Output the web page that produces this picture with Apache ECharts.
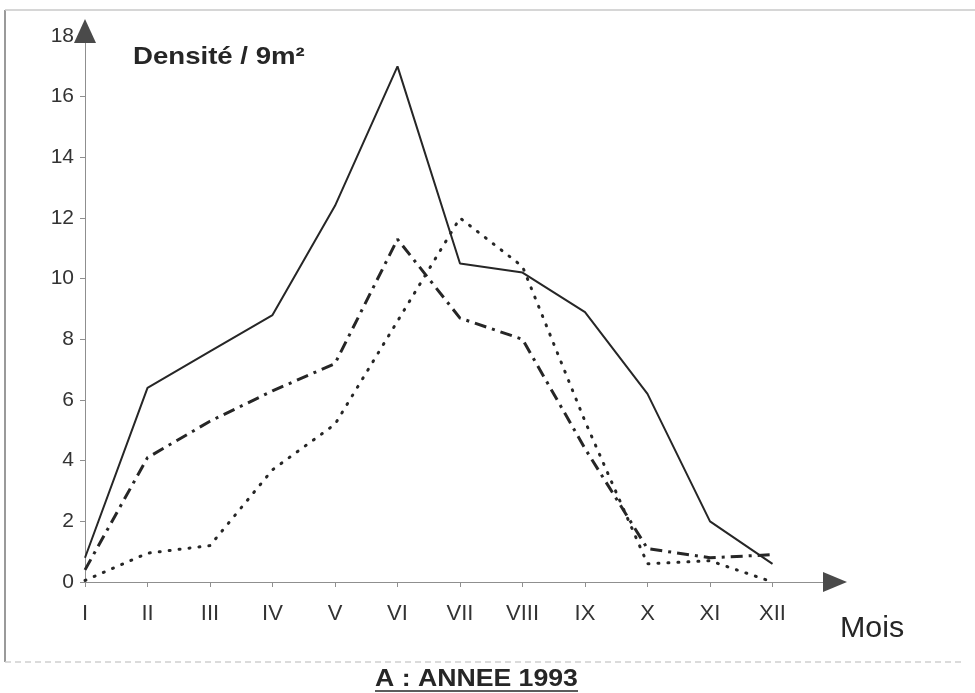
<!DOCTYPE html>
<html>
<head>
<meta charset="utf-8">
<title>A : ANNEE 1993</title>
<script src="https://cdn.jsdelivr.net/npm/echarts@6/dist/echarts.min.js"></script>
<style>
  html, body { margin: 0; padding: 0; background: #fff; }
  #chart { width: 975px; height: 693px; }
</style>
</head>
<body>
<div id="chart"></div>
<script>
// Months of 1993 on the horizontal axis
const mois = ['I', 'II', 'III', 'IV', 'V', 'VI', 'VII', 'VIII', 'IX', 'X', 'XI', 'XII'];

// Density per 9 m², one value per month
const densiteTrait      = [0.8, 6.4, 7.6, 8.8, 12.4, 17.0, 10.5, 10.2, 8.9, 6.2, 2.0, 0.6];
const densiteTiretPoint = [0.4, 4.1, 5.3, 6.3, 7.2, 11.3, 8.7, 8.0, 4.4, 1.1, 0.8, 0.9];
const densitePointille  = [0.05, 0.95, 1.2, 3.7, 5.2, 8.6, 12.0, 10.4, 5.3, 0.6, 0.7, 0.0];

// Y axis ticks
const yTicks = [0, 2, 4, 6, 8, 10, 12, 14, 16, 18];

const monthIdx = mois.map((_, i) => i);
const pairs = arr => arr.map((v, i) => [i, v]);

const FONT = '"Liberation Sans", Arial, sans-serif';
const INK = '#262626';
const AXIS_GREY = '#8f8f8f';
const ARROW = '#4a4a4a';

const xRange = { min: 0, max: 12, interval: 1 };
const yRange = { min: yTicks[0], max: yTicks[yTicks.length - 1], interval: 2 };

// Overlay axes: only carry the dark arrow heads (line itself has no width)
const arrowX = Object.assign({
  type: 'value', position: 'bottom',
  axisLine: { show: true, symbol: ['none', 'triangle'], symbolSize: [20, 24], lineStyle: { color: ARROW, width: 0 } },
  axisTick: { show: false }, axisLabel: { show: false }, splitLine: { show: false }
}, xRange);
const arrowY = Object.assign({
  type: 'value', position: 'left',
  axisLine: { show: true, symbol: ['none', 'triangle'], symbolSize: [22, 24], symbolOffset: [0, 5], lineStyle: { color: ARROW, width: 0 } },
  axisTick: { show: false }, axisLabel: { show: false }, splitLine: { show: false }
}, yRange);

const chart = echarts.init(document.getElementById('chart'), null, { renderer: 'canvas' });

chart.setOption({
  animation: false,
  backgroundColor: '#ffffff',
  grid: { left: 85, right: 140, top: 36, bottom: 111 },
  xAxis: [
    Object.assign({
      type: 'value',
      position: 'bottom',
      axisLine: { show: true, lineStyle: { color: AXIS_GREY, width: 1 } },
      axisTick: { show: true, customValues: monthIdx, length: 5, lineStyle: { color: AXIS_GREY } },
      axisLabel: {
        customValues: monthIdx,
        formatter: v => mois[v] || '',
        fontFamily: FONT,
        fontSize: 22,
        color: '#333',
        margin: 21
      },
      splitLine: { show: false }
    }, xRange),
    arrowX
  ],
  yAxis: [
    Object.assign({
      type: 'value',
      position: 'left',
      axisLine: { show: true, lineStyle: { color: AXIS_GREY, width: 1 } },
      axisTick: { show: true, length: 5, lineStyle: { color: AXIS_GREY } },
      axisLabel: { fontFamily: FONT, fontSize: 21, color: '#333', margin: 11 },
      splitLine: { show: false }
    }, yRange),
    arrowY
  ],
  series: [
    {
      name: 'trait',
      type: 'line',
      data: pairs(densiteTrait),
      showSymbol: false,
      lineStyle: { color: INK, width: 2 }
    },
    {
      name: 'tiret-point',
      type: 'line',
      data: pairs(densiteTiretPoint),
      showSymbol: false,
      lineStyle: { color: INK, width: 3, type: [12, 6, 3, 6], cap: 'butt' }
    },
    {
      name: 'pointillé',
      type: 'line',
      data: pairs(densitePointille),
      showSymbol: false,
      lineStyle: { color: INK, width: 3, type: [1, 9], cap: 'round' }
    }
  ],
  graphic: [
    // scanned page frame
    { type: 'line', shape: { x1: 5, y1: 10, x2: 5, y2: 662 }, style: { stroke: '#9a9a9a', lineWidth: 2 } },
    { type: 'line', shape: { x1: 5, y1: 10, x2: 975, y2: 10 }, style: { stroke: '#c8c8c8', lineWidth: 1.5 } },
    { type: 'line', shape: { x1: 5, y1: 662, x2: 965, y2: 662 }, style: { stroke: '#cfcfcf', lineWidth: 1.5, lineDash: [6, 4] } },
    {
      type: 'text', x: 133, y: 57, scaleX: 1.15,
      style: { text: 'Densité / 9m²', font: 'bold 24px ' + FONT, fill: INK, textAlign: 'left', textVerticalAlign: 'middle' }
    },
    {
      type: 'text', x: 840, y: 629, scaleX: 1.05,
      style: { text: 'Mois', font: '29px ' + FONT, fill: INK, textAlign: 'left', textVerticalAlign: 'middle' }
    },
    {
      type: 'text', x: 375, y: 679, scaleX: 1.11,
      style: { text: 'A : ANNEE 1993', font: 'bold 24px ' + FONT, fill: INK, textAlign: 'left', textVerticalAlign: 'middle' }
    },
    { type: 'line', shape: { x1: 375, y1: 691, x2: 578, y2: 691 }, style: { stroke: INK, lineWidth: 1.5 } }
  ]
});
</script>
</body>
</html>
